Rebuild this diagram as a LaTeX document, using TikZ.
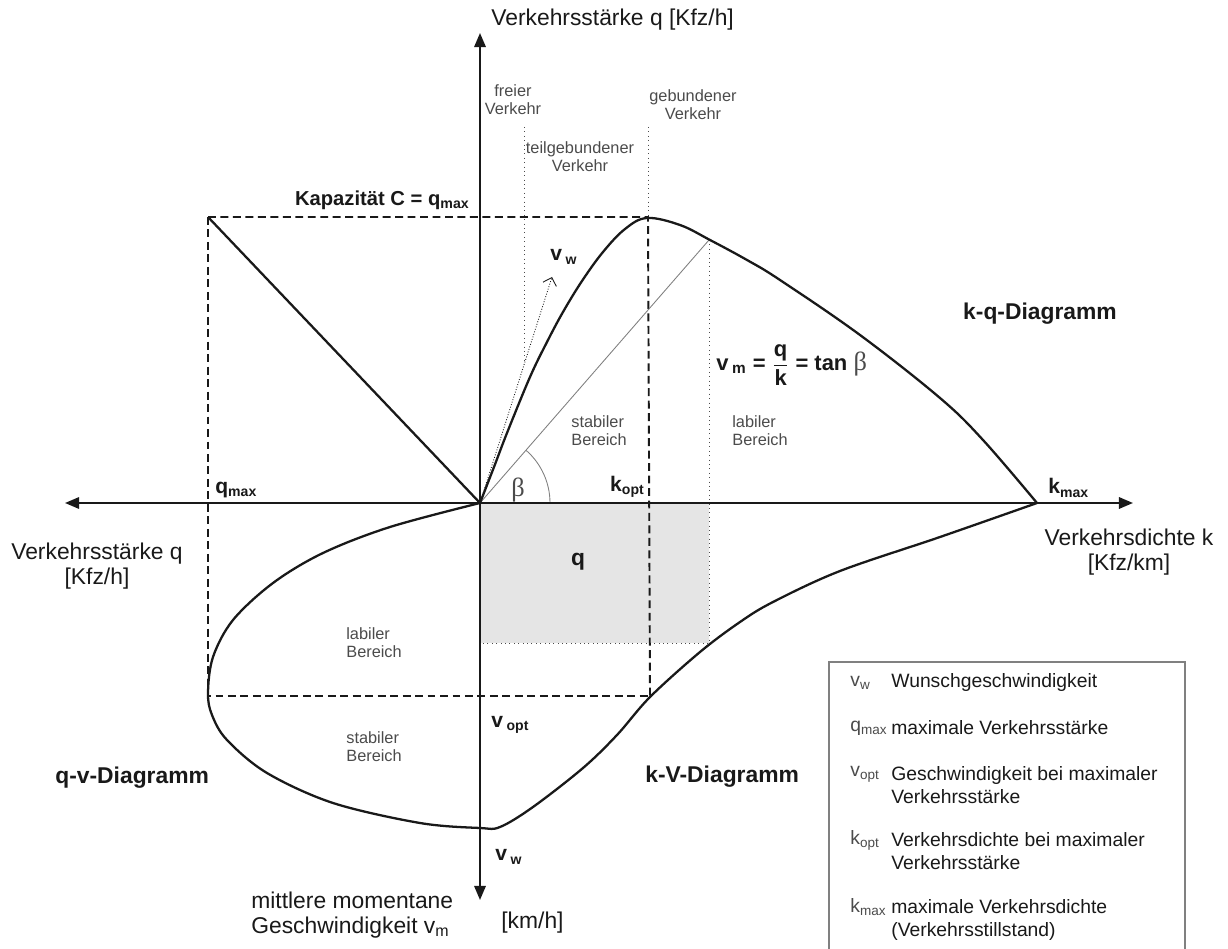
\documentclass[tikz,border=0pt]{standalone}
\usepackage{fontspec}
\setmainfont{Liberation Sans}
\newfontfamily\betafont{Liberation Serif}
\usetikzlibrary{arrows.meta,positioning}
\definecolor{ink}{RGB}{25,25,25}
\definecolor{softink}{RGB}{75,75,75}
\definecolor{areagray}{RGB}{229,229,229}
\newcommand{\axislabelfont}{\fontsize{13}{14.5}\selectfont}
\newcommand{\regionfont}{\fontsize{9.3}{10.2}\selectfont}
\newcommand{\legendfont}{\fontsize{11}{13}\selectfont}
\newcommand{\markfont}{\fontsize{12}{14}\selectfont\bfseries}

\tikzset{
  axis/.style={line width=1.1pt, ink,
    {Triangle[length=8pt,width=6.5pt]}-{Triangle[length=8pt,width=6.5pt]}},
  curve/.style={line width=1.3pt, ink, line join=round},
  helper/.style={line width=1.1pt, ink, dash pattern=on 4.5pt off 2.6pt},
  guide/.style={softink, line width=0.5pt, dotted},
  ray/.style={gray, line width=0.5pt},
  region/.style={softink, font=\regionfont, align=left, inner sep=0pt},
  diagname/.style={ink, font=\axislabelfont\bfseries, inner sep=0pt},
  axisname/.style={ink, font=\axislabelfont, align=center, inner sep=0pt},
  marklabel/.style={ink, font=\markfont, inner sep=0pt},
  legendsym/.style={softink, font=\legendfont, anchor=west, inner sep=0pt},
  legendtext/.style={ink, font=\legendfont, anchor=west, align=left, inner sep=0pt}
}

\begin{document}
\begin{tikzpicture}[x=0.02cm, y=-0.02cm]
  \useasboundingbox (0,0) rectangle (1228,949);

  % Key points
  \coordinate (O) at (480,503);
  \coordinate (kmax) at (1037,503);
  \coordinate (peak) at (648,217);
  \coordinate (qcap) at (208,217);
  \coordinate (vopt) at (208,696);
  \coordinate (kvopt) at (650,696);
  \coordinate (cut) at (709,240);
  \coordinate (qarea) at (709,643);

  % Area q = k * v
  \fill[areagray] (O) rectangle (qarea);
  \draw[guide] (cut) -- (qarea) -- (O |- qarea);

  % Traffic state boundaries
  \draw[guide] (524,127) -- (524,360);
  \draw[guide] (648,127) -- (peak);

  % Helper lines
  \draw[helper] (qcap) -- (peak) -- (kvopt);
  \draw[helper] (qcap) -- (vopt) -- (kvopt);
  \draw[curve] (qcap) -- (O);

  % tan beta ray and v_w
  \draw[ray] (O) -- (cut);
  \draw[ray] (550,503) arc[start angle=0, end angle=48.7, radius=1.4cm];
  \draw[ink, line width=0.5pt, densely dotted, -{Straight Barb[length=4pt]}] (O) -- (552,277);

  % k-q curve
  \draw[curve] plot[smooth, tension=0.6] coordinates {(480,503) (494,467) (507,433)
    (530,377) (547,342) (563,312) (582,281) (603,252) (625,229) (647,218)
    (680,225) (710,240) (747,260) (780,280) (860,335) (940,398) (983,440) (1037,503)};

  % q-v and k-v curve
  \draw[curve] plot[smooth, tension=0.55] coordinates {(480,503) (390,527) (323,553)
    (273,583) (233,620) (213,657) (208,693) (212,715) (227,740) (267,773) (333,803)
    (420,823) (480,828) (500,827) (533,807) (583,768) (617,735) (650,697) (700,652)
    (740,622) (773,602) (840,571) (940,537) (1037,503)};

  % Axes
  \draw[axis] (65,503) -- (1133,503);
  \draw[axis] (480,900) -- (480,33);

  % Axis names
  \node[axisname, anchor=west] (qtop) at (491,20) {Verkehrsstärke q [Kfz/h]};
  \node[axisname] (qleft) at (97,566) {Verkehrsstärke q\\{[Kfz/h]}};
  \node[axisname] (kright) at (1129,552) {Verkehrsdichte k\\{[Kfz/km]}};
  \node[axisname, anchor=west, align=left] (vbottom) at (251,915)
    {mittlere momentane\\Geschwindigkeit v\textsubscript{m}};
  \node[axisname, anchor=west] (vunit) at (501,923) {[km/h]};

  % Traffic states
  \node[region, align=center] (free) at (513,100) {freier\\Verkehr};
  \node[region, align=center] (partial) at (580,157) {teilgebundener\\Verkehr};
  \node[region, align=center] (bound) at (693,105) {gebundener\\Verkehr};

  % Marks
  \node[ink, font=\fontsize{11.5}{13}\selectfont\bfseries, anchor=east, inner sep=0pt]
    (cap) at (470,200) {Kapazität C = q\textsubscript{max}};
  \node[marklabel, anchor=west] (qmaxl) at (215,490) {q\textsubscript{max}};
  \node[marklabel, anchor=west] (kmaxl) at (1048,488) {k\textsubscript{max}};
  \node[marklabel, anchor=east] (koptl) at (645,487) {k\textsubscript{opt}};
  \node[marklabel, anchor=west] (voptl) at (491,725) {v\,\textsubscript{opt}};
  \node[marklabel, anchor=west] (vwl) at (495,857) {v\,\textsubscript{w}};
  \node[marklabel, anchor=west] (vwtop) at (550,257) {v\,\textsubscript{w}};
  \node[marklabel, font=\fontsize{13}{14}\selectfont\bfseries] (qlbl) at (578,562) {q};
  \node[softink, font=\betafont\fontsize{15}{16}\selectfont, inner sep=0pt] (beta) at (518,490) {β};
  \node[ink, font=\fontsize{12.5}{14}\selectfont\bfseries, anchor=west, inner sep=0pt] (formula) at (716,365)
    {v\,\textsubscript{m} = $\displaystyle\frac{\mbox{q}}{\mbox{k}}$ = tan {\mdseries\betafont\color{softink}\fontsize{15}{16}\selectfont β}};

  % Regions
  \node[region, anchor=west] (stab1) at (571,431) {stabiler\\Bereich};
  \node[region, anchor=west] (lab1) at (732,431) {labiler\\Bereich};
  \node[region, anchor=west] (lab2) at (346,643) {labiler\\Bereich};
  \node[region, anchor=west] (stab2) at (346,747) {stabiler\\Bereich};

  % Diagram names
  \node[diagname] (kq) at (1040,314) {k-q-Diagramm};
  \node[diagname, anchor=west] (qv) at (55,778) {q-v-Diagramm};
  \node[diagname, anchor=west] (kv) at (645,777) {k-V-Diagramm};

  % Legend
  \draw[gray, line width=0.6pt] (829,955) -- (829,662) -- (1185,662) -- (1185,955);
  \node[legendsym] (s1) at (850,683) {v\textsubscript{w}};
  \node[legendtext] (t1) at (891,683) {Wunschgeschwindigkeit};
  \node[legendsym] (s2) at (850,728) {q\textsubscript{max}};
  \node[legendtext] (t2) at (891,728) {maximale Verkehrsstärke};
  \node[legendsym] (s3) at (850,774) {v\textsubscript{opt}};
  \node[legendtext, anchor=north west] (t3) at (891,766) {Geschwindigkeit bei maximaler\\Verkehrsstärke};
  \node[legendsym] (s4) at (850,840) {k\textsubscript{opt}};
  \node[legendtext, anchor=north west] (t4) at (891,832) {Verkehrsdichte bei maximaler\\Verkehrsstärke};
  \node[legendsym] (s5) at (850,907) {k\textsubscript{max}};
  \node[legendtext, anchor=north west] (t5) at (891,899) {maximale Verkehrsdichte\\(Verkehrsstillstand)};
\end{tikzpicture}
\end{document}
